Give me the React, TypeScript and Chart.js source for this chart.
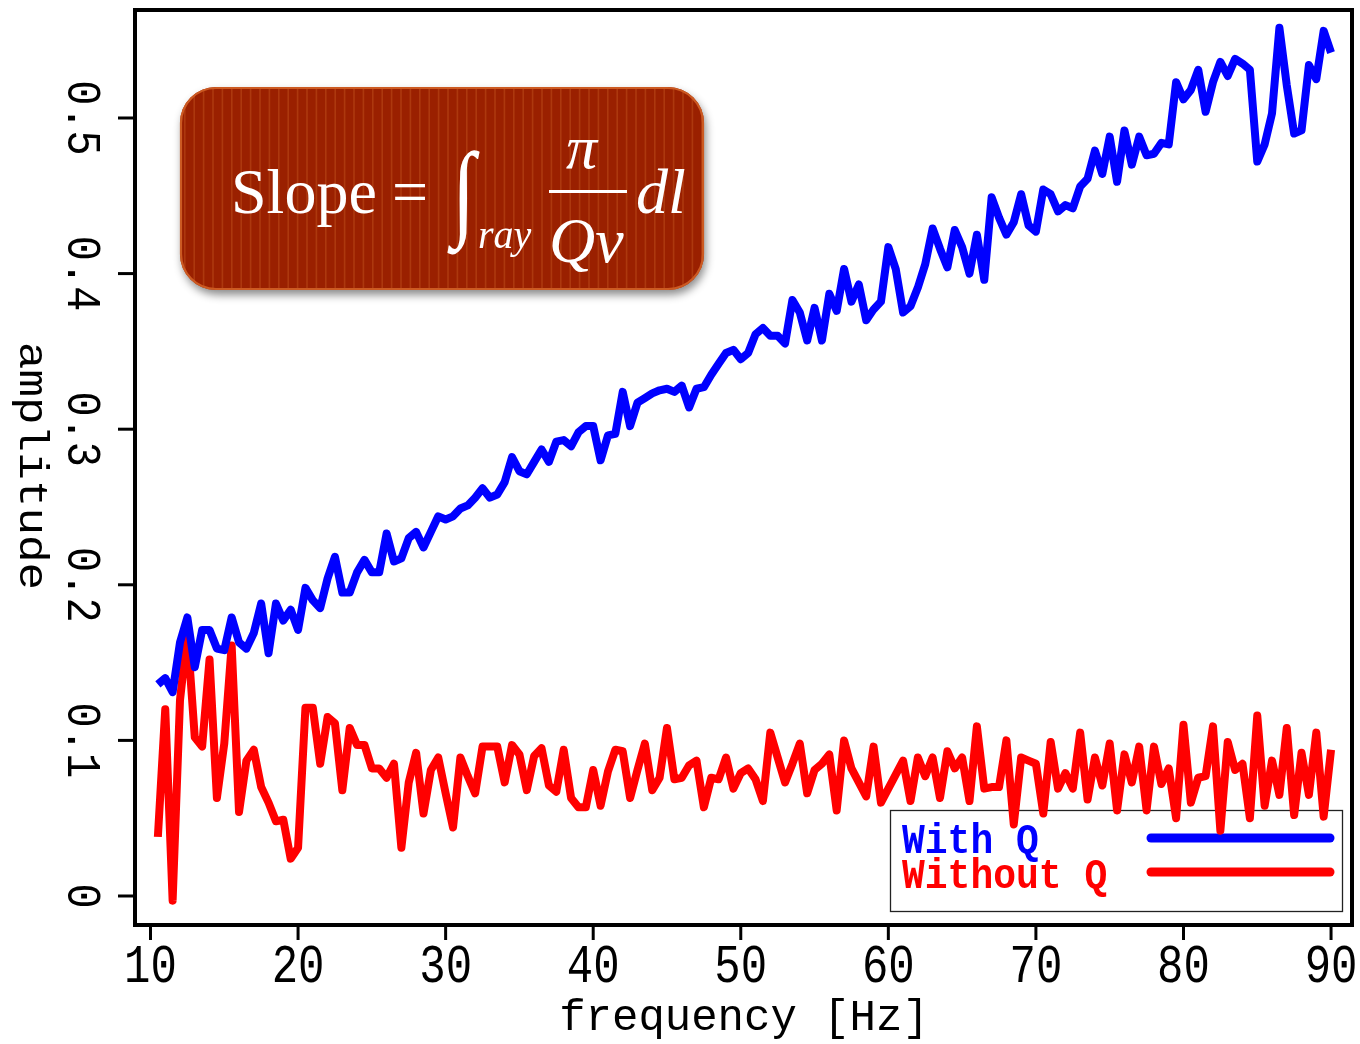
import { useEffect, useRef } from "react";
import { Chart, registerables } from "chart.js";
Chart.register(...registerables);

const frequencies = [
  10.5, 11, 11.5, 12, 12.5, 13, 13.5, 14, 14.5, 15, 15.5, 16, 16.5, 17, 17.5, 18, 18.5, 19, 19.5, 20,
  20.5, 21, 21.5, 22, 22.5, 23, 23.5, 24, 24.5, 25, 25.5, 26, 26.5, 27, 27.5, 28, 28.5, 29, 29.5, 30,
  30.5, 31, 31.5, 32, 32.5, 33, 33.5, 34, 34.5, 35, 35.5, 36, 36.5, 37, 37.5, 38, 38.5, 39, 39.5, 40,
  40.5, 41, 41.5, 42, 42.5, 43, 43.5, 44, 44.5, 45, 45.5, 46, 46.5, 47, 47.5, 48, 48.5, 49, 49.5, 50,
  50.5, 51, 51.5, 52, 52.5, 53, 53.5, 54, 54.5, 55, 55.5, 56, 56.5, 57, 57.5, 58, 58.5, 59, 59.5, 60,
  60.5, 61, 61.5, 62, 62.5, 63, 63.5, 64, 64.5, 65, 65.5, 66, 66.5, 67, 67.5, 68, 68.5, 69, 69.5, 70,
  70.5, 71, 71.5, 72, 72.5, 73, 73.5, 74, 74.5, 75, 75.5, 76, 76.5, 77, 77.5, 78, 78.5, 79, 79.5, 80,
  80.5, 81, 81.5, 82, 82.5, 83, 83.5, 84, 84.5, 85, 85.5, 86, 86.5, 87, 87.5, 88, 88.5, 89, 89.5, 90,
];

const withQ = [
  0.136, 0.140, 0.131, 0.163, 0.179, 0.147, 0.171, 0.171, 0.159, 0.158,
  0.179, 0.163, 0.159, 0.169, 0.188, 0.156, 0.188, 0.177, 0.184, 0.171,
  0.198, 0.190, 0.185, 0.204, 0.218, 0.195, 0.195, 0.208, 0.216, 0.208,
  0.208, 0.233, 0.215, 0.217, 0.230, 0.234, 0.224, 0.234, 0.244, 0.242,
  0.244, 0.249, 0.251, 0.256, 0.262, 0.256, 0.258, 0.266, 0.282, 0.273,
  0.271, 0.279, 0.287, 0.279, 0.292, 0.293, 0.289, 0.298, 0.302, 0.302,
  0.280, 0.296, 0.297, 0.324, 0.302, 0.317, 0.320, 0.323, 0.325, 0.326,
  0.324, 0.328, 0.314, 0.326, 0.327, 0.335, 0.342, 0.349, 0.351, 0.345,
  0.349, 0.361, 0.365, 0.360, 0.360, 0.355, 0.383, 0.375, 0.357, 0.378,
  0.357, 0.387, 0.376, 0.403, 0.382, 0.393, 0.370, 0.377, 0.382, 0.417,
  0.403, 0.375, 0.379, 0.391, 0.406, 0.429, 0.416, 0.404, 0.428, 0.417,
  0.400, 0.425, 0.396, 0.449, 0.436, 0.425, 0.433, 0.451, 0.431, 0.427,
  0.454, 0.451, 0.440, 0.444, 0.442, 0.456, 0.461, 0.479, 0.464, 0.488,
  0.459, 0.492, 0.470, 0.488, 0.476, 0.477, 0.484, 0.483, 0.523, 0.512,
  0.518, 0.531, 0.504, 0.523, 0.536, 0.527, 0.538, 0.535, 0.531, 0.472,
  0.483, 0.503, 0.558, 0.521, 0.490, 0.492, 0.534, 0.525, 0.556, 0.542,
];

const withoutQ = [
  0.038, 0.120, -0.003, 0.126, 0.169, 0.102, 0.096, 0.152, 0.063, 0.098,
  0.161, 0.054, 0.087, 0.094, 0.070, 0.060, 0.048, 0.049, 0.024, 0.031,
  0.121, 0.121, 0.085, 0.115, 0.111, 0.068, 0.108, 0.097, 0.097, 0.082,
  0.082, 0.076, 0.085, 0.031, 0.073, 0.092, 0.053, 0.081, 0.089, 0.066,
  0.044, 0.089, 0.077, 0.066, 0.096, 0.096, 0.096, 0.073, 0.097, 0.091,
  0.068, 0.090, 0.095, 0.071, 0.067, 0.094, 0.063, 0.057, 0.057, 0.081,
  0.058, 0.080, 0.094, 0.093, 0.063, 0.081, 0.098, 0.068, 0.076, 0.108,
  0.075, 0.076, 0.084, 0.087, 0.057, 0.076, 0.075, 0.089, 0.069, 0.079,
  0.082, 0.075, 0.061, 0.105, 0.089, 0.073, 0.085, 0.098, 0.066, 0.081,
  0.085, 0.091, 0.055, 0.100, 0.082, 0.073, 0.064, 0.096, 0.060, 0.069,
  0.078, 0.087, 0.061, 0.089, 0.077, 0.089, 0.063, 0.093, 0.082, 0.089,
  0.061, 0.109, 0.069, 0.070, 0.070, 0.100, 0.046, 0.089, 0.087, 0.085,
  0.053, 0.099, 0.069, 0.079, 0.069, 0.105, 0.062, 0.089, 0.071, 0.098,
  0.055, 0.091, 0.073, 0.096, 0.055, 0.096, 0.072, 0.082, 0.050, 0.110,
  0.060, 0.076, 0.077, 0.109, 0.042, 0.099, 0.081, 0.085, 0.050, 0.116,
  0.058, 0.087, 0.065, 0.108, 0.052, 0.092, 0.065, 0.105, 0.051, 0.094,
];

const xTicks = [10, 20, 30, 40, 50, 60, 70, 80, 90];
const yTicks = [0, 0.1, 0.2, 0.3, 0.4, 0.5];
const yTickLabels = ["0", "0.1", "0.2", "0.3", "0.4", "0.5"];
const seriesLabels = ["With Q", "Without Q"];
const seriesColors = ["#0000ff", "#ff0000"];
const xTitle = "frequency [Hz]";
const yTitle = "amplitude";

const MONO = '"Liberation Mono", "DejaVu Sans Mono", monospace';
const SERIF = '"Liberation Serif", "DejaVu Serif", serif';

function roundRectPath(ctx: CanvasRenderingContext2D, x: number, y: number, w: number, h: number, r: number) {
  ctx.beginPath();
  ctx.moveTo(x + r, y);
  ctx.lineTo(x + w - r, y);
  ctx.arcTo(x + w, y, x + w, y + r, r);
  ctx.lineTo(x + w, y + h - r);
  ctx.arcTo(x + w, y + h, x + w - r, y + h, r);
  ctx.lineTo(x + r, y + h);
  ctx.arcTo(x, y + h, x, y + h - r, r);
  ctx.lineTo(x, y + r);
  ctx.arcTo(x, y, x + r, y, r);
  ctx.closePath();
}

const decorPlugin = {
  id: "decor",
  beforeDatasetsDraw(chart: any) {
    const ctx: CanvasRenderingContext2D = chart.ctx;
    ctx.save();
    ctx.strokeStyle = "#222";
    ctx.lineWidth = 1.3;
    ctx.strokeRect(890.5, 810.5, 452, 101);
    const ds = chart.data.datasets;
    const rows = [853, 888];
    const lineY = [838, 872];
    ds.forEach((d: any, i: number) => {
      ctx.save();
      ctx.translate(902, rows[i]);
      ctx.scale(1, 1.12);
      ctx.font = `bold 38px ${MONO}`;
      ctx.fillStyle = d.borderColor;
      ctx.textAlign = "left";
      ctx.textBaseline = "alphabetic";
      ctx.fillText(d.label, 0, 0);
      ctx.restore();
      ctx.beginPath();
      ctx.strokeStyle = d.borderColor;
      ctx.lineWidth = 9;
      ctx.lineCap = "round";
      ctx.moveTo(1151, lineY[i]);
      ctx.lineTo(1330, lineY[i]);
      ctx.stroke();
    });
    ctx.restore();
  },
  afterDatasetsDraw(chart: any) {
    const ctx: CanvasRenderingContext2D = chart.ctx;
    const bx = 180, by = 87, bw = 524, bh = 203, br = 36;
    ctx.save();
    ctx.shadowColor = "rgba(0,0,0,0.45)";
    ctx.shadowBlur = 9;
    ctx.shadowOffsetX = 2;
    ctx.shadowOffsetY = 5;
    roundRectPath(ctx, bx, by, bw, bh, br);
    ctx.fillStyle = "#9a2000";
    ctx.fill();
    ctx.restore();

    ctx.save();
    roundRectPath(ctx, bx, by, bw, bh, br);
    ctx.clip();
    ctx.fillStyle = "rgba(214,110,45,0.32)";
    for (let x = bx + 4; x < bx + bw; x += 9.4) {
      ctx.fillRect(x, by, 1.6, bh);
    }
    ctx.restore();

    ctx.save();
    roundRectPath(ctx, bx + 1, by + 1, bw - 2, bh - 2, br - 1);
    ctx.strokeStyle = "#cc5a22";
    ctx.lineWidth = 2.2;
    ctx.stroke();
    ctx.restore();

    ctx.save();
    ctx.fillStyle = "#ffffff";
    ctx.textBaseline = "alphabetic";
    ctx.textAlign = "left";
    ctx.font = `64px ${SERIF}`;
    ctx.fillText("Slope", 231, 213);
    ctx.fillText("=", 392, 213);
    ctx.save();
    ctx.translate(452, 226);
    ctx.scale(0.8, 1);
    ctx.font = `106px ${SERIF}`;
    ctx.fillText("\u222B", 0, 0);
    ctx.restore();
    ctx.font = `italic 40px ${SERIF}`;
    ctx.fillText("ray", 478, 248);
    ctx.font = `italic 62px ${SERIF}`;
    ctx.fillText("\u03C0", 566, 168);
    ctx.fillRect(549, 190, 78, 3);
    ctx.font = `italic 64px ${SERIF}`;
    ctx.fillText("Qv", 549, 262);
    ctx.fillText("dl", 636, 213);
    ctx.restore();
  },
  afterDraw(chart: any) {
    const ctx: CanvasRenderingContext2D = chart.ctx;
    const a = chart.chartArea;
    const xs = chart.scales.x;
    const ys = chart.scales.y;
    ctx.save();
    ctx.strokeStyle = "#000";
    ctx.lineWidth = 4;
    ctx.strokeRect(a.left, a.top, a.right - a.left, a.bottom - a.top);
    ctx.lineWidth = 3;
    ctx.fillStyle = "#000";
    xTicks.forEach((t) => {
      const px = xs.getPixelForValue(t);
      ctx.beginPath();
      ctx.moveTo(px, a.bottom);
      ctx.lineTo(px, a.bottom + 15);
      ctx.stroke();
      ctx.save();
      ctx.translate(px, 982);
      ctx.scale(1, 1.2);
      ctx.font = `44px ${MONO}`;
      ctx.textAlign = "center";
      ctx.textBaseline = "alphabetic";
      ctx.fillText(String(t), 0, 0);
      ctx.restore();
    });
    yTicks.forEach((t, i) => {
      const py = ys.getPixelForValue(t);
      ctx.beginPath();
      ctx.moveTo(a.left, py);
      ctx.lineTo(a.left - 17, py);
      ctx.stroke();
      ctx.save();
      ctx.translate(68, py);
      ctx.rotate(Math.PI / 2);
      ctx.scale(1, 1.15);
      ctx.font = `42px ${MONO}`;
      ctx.textAlign = "center";
      ctx.textBaseline = "alphabetic";
      ctx.fillText(yTickLabels[i], 0, 0);
      ctx.restore();
    });
    ctx.save();
    ctx.translate(744, 1030);
    ctx.font = `44px ${MONO}`;
    ctx.textAlign = "center";
    ctx.textBaseline = "alphabetic";
    ctx.fillText(xTitle, 0, 0);
    ctx.restore();
    ctx.save();
    ctx.translate(20, 466);
    ctx.rotate(Math.PI / 2);
    ctx.scale(1.15, 1);
    ctx.font = `40px ${MONO}`;
    ctx.textAlign = "center";
    ctx.textBaseline = "alphabetic";
    ctx.fillText(yTitle, 0, 0);
    ctx.restore();
    ctx.restore();
  },
};

export default function App() {
  const ref = useRef<HTMLCanvasElement | null>(null);
  useEffect(() => {
    if (!ref.current) return;
    const chart = new Chart(ref.current, {
      type: "line",
      data: {
        datasets: [
          {
            label: seriesLabels[0],
            data: frequencies.map((f, i) => ({ x: f, y: withQ[i] })),
            borderColor: seriesColors[0],
            backgroundColor: seriesColors[0],
            borderWidth: 8,
            pointRadius: 0,
            tension: 0,
            borderJoinStyle: "round",
            borderCapStyle: "butt",
            fill: false,
          },
          {
            label: seriesLabels[1],
            data: frequencies.map((f, i) => ({ x: f, y: withoutQ[i] })),
            borderColor: seriesColors[1],
            backgroundColor: seriesColors[1],
            borderWidth: 8,
            pointRadius: 0,
            tension: 0,
            borderJoinStyle: "round",
            borderCapStyle: "butt",
            fill: false,
          },
        ],
      },
      options: {
        animation: false,
        responsive: false,
        devicePixelRatio: 1,
        layout: { padding: { left: 135, top: 10, right: 8, bottom: 119 } },
        plugins: { legend: { display: false }, tooltip: { enabled: false } },
        scales: {
          x: { type: "linear", display: false, min: 8.95, max: 91.42 },
          y: { type: "linear", display: false, min: -0.01864, max: 0.5694 },
        },
      } as any,
      plugins: [decorPlugin],
    });
    return () => chart.destroy();
  }, []);
  return (
    <div style={{ position: "fixed", left: 0, top: 0, width: 1360, height: 1044, background: "#fff" }}>
      <canvas ref={ref} width={1360} height={1044} style={{ display: "block" }} />
    </div>
  );
}
